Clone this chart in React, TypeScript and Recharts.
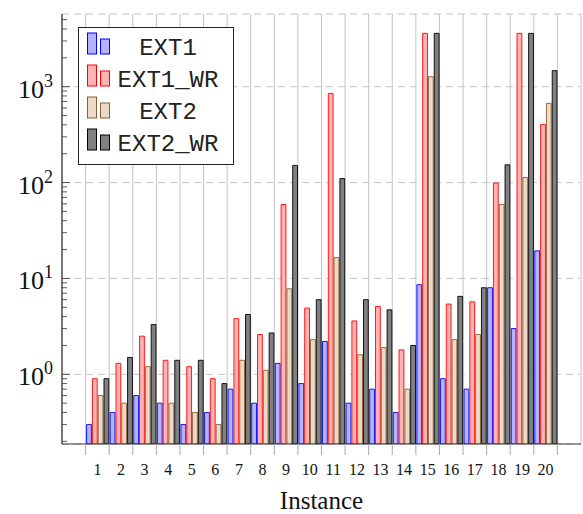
import React from "react";
import { BarChart, Bar, XAxis, YAxis, CartesianGrid } from "recharts";

// instances 1..20, runtimes on a log axis
const categories = [
  "1", "2", "3", "4", "5", "6", "7", "8", "9", "10",
  "11", "12", "13", "14", "15", "16", "17", "18", "19", "20",
];
const ext1 = [0.3, 0.4, 0.6, 0.5, 0.3, 0.4, 0.7, 0.5, 1.3, 0.8, 2.2, 0.5, 0.7, 0.4, 8.6, 0.9, 0.7, 8, 3, 19.4];
const ext1Wr = [0.9, 1.3, 2.5, 1.4, 1.2, 0.9, 3.8, 2.6, 59, 4.9, 850, 3.6, 5.1, 1.8, 3600, 5.4, 5.7, 99, 3600, 404];
const ext2 = [0.6, 0.5, 1.2, 0.5, 0.4, 0.3, 1.4, 1.1, 7.8, 2.3, 16.5, 1.6, 1.9, 0.7, 1270, 2.3, 2.6, 59, 113, 670];
const ext2Wr = [0.9, 1.5, 3.3, 1.4, 1.4, 0.8, 4.2, 2.7, 151, 6, 110, 6, 4.7, 2, 3600, 6.5, 8, 153, 3600, 1470];

const yTicks = [
  0.2, 0.3, 0.4, 0.5, 0.6, 0.7, 0.8, 0.9,
  1, 2, 3, 4, 5, 6, 7, 8, 9,
  10, 20, 30, 40, 50, 60, 70, 80, 90,
  100, 200, 300, 400, 500, 600, 700, 800, 900,
  1000, 2000, 3000, 4000, 5000,
];
const majorTicks = [1, 10, 100, 1000];
const yDomain = [0.1875, 5730];

const series = [
  { key: "ext1", name: "EXT1", fill: "#b3b3ff", stroke: "#0000ff" },
  { key: "ext1Wr", name: "EXT1_WR", fill: "#ffb3b3", stroke: "#ff0000" },
  { key: "ext2", name: "EXT2", fill: "#ecd9c6", stroke: "#8c5e34" },
  { key: "ext2Wr", name: "EXT2_WR", fill: "#808080", stroke: "#000000" },
];

const data = categories.map((name, i) => ({
  name,
  pos: Number(name),
  ext1: ext1[i],
  ext1Wr: ext1Wr[i],
  ext2: ext2[i],
  ext2Wr: ext2Wr[i],
}));

// group borders sit half way between instances
const edgeTicks = [0.5, ...categories.map((c) => Number(c) + 0.5)];
const xDomain = [-0.5, categories.length + 1.5];

const SERIF = "'Liberation Serif', 'DejaVu Serif', serif";
const MONO = "'Liberation Mono', 'DejaVu Sans Mono', monospace";
const GRID = "#c4c4c4";
const FRAME = "#333";

const isMajor = (v: number) => Math.abs(Math.log10(v) - Math.round(Math.log10(v))) < 1e-9;

// tick={false} would also drop grid lines, so draw an empty label instead
const NoLabel = () => <g />;

const LeftTick = (props: any) => {
  const { x, y, payload } = props;
  const major = isMajor(payload.value);
  return (
    <g>
      <line x1={x} x2={x + (major ? 8 : 5)} y1={y} y2={y} stroke={FRAME} strokeWidth={0.8} />
      {major && (
        <text x={x - 9} y={y + 11} textAnchor="end" fontFamily={SERIF} fontSize={26} fill="#111">
          10
          <tspan dy={-11} fontSize={18}>
            {Math.round(Math.log10(payload.value))}
          </tspan>
        </text>
      )}
    </g>
  );
};

const RightTick = (props: any) => {
  const { x, y, payload } = props;
  const major = isMajor(payload.value);
  return <line x1={x} x2={x - (major ? 8 : 5)} y1={y} y2={y} stroke={FRAME} strokeWidth={0.8} />;
};

function LegendBox() {
  return (
    <svg
      width={156}
      height={138}
      style={{ position: "absolute", left: 78, top: 27, background: "#fff" }}
    >
      <rect x={0.5} y={0.5} width={155} height={137} fill="#fff" stroke="#222" strokeWidth={1} />
      {series.map((s, i) => {
        const yb = 27 + i * 32;
        return (
          <g key={s.key}>
            <rect x={9.5} y={yb - 21} width={9} height={21} fill={s.fill} stroke={s.stroke} strokeWidth={1} />
            <rect x={22.5} y={yb - 15} width={9} height={15} fill={s.fill} stroke={s.stroke} strokeWidth={1} />
            <text x={90} y={yb + 1} textAnchor="middle" fontFamily={MONO} fontSize={24} fill="#222">
              {s.name}
            </text>
          </g>
        );
      })}
    </svg>
  );
}

export default function App() {
  return (
    <div style={{ position: "absolute", left: 0, top: 0, width: 583, height: 514, background: "#fff" }}>
      <BarChart
        width={583}
        height={514}
        data={data}
        margin={{ top: 14, right: 2, left: 0, bottom: 0 }}
        barSize={4.8}
        barGap={1}
      >
        <CartesianGrid horizontal={false} stroke={GRID} strokeWidth={1} />
        <CartesianGrid yAxisId="major" vertical={false} stroke={GRID} strokeDasharray="7 5" strokeWidth={1} />
        <XAxis
          dataKey="pos"
          type="number"
          domain={xDomain}
          allowDataOverflow
          ticks={edgeTicks}
          interval={0}
          tick={NoLabel}
          tickSize={11}
          tickLine={{ stroke: "#aaa" }}
          axisLine={{ stroke: FRAME, strokeWidth: 1.2 }}
          height={11}
        />
        <XAxis
          xAxisId="top"
          dataKey="pos"
          orientation="top"
          type="number"
          domain={xDomain}
          allowDataOverflow
          ticks={edgeTicks}
          interval={0}
          tick={NoLabel}
          tickSize={11}
          tickLine={{ stroke: "#aaa" }}
          axisLine={{ stroke: FRAME, strokeWidth: 1.2 }}
          height={0}
        />
        <XAxis
          xAxisId="cat"
          dataKey="name"
          type="category"
          padding={{ left: 23.59, right: 23.59 }}
          interval={0}
          tickLine={false}
          axisLine={false}
          tickSize={0}
          tickMargin={9}
          height={59}
          tick={{ fontFamily: SERIF, fontSize: 16, fill: "#111" }}
          label={{
            value: "Instance",
            position: "insideBottom",
            offset: 5,
            style: { fontFamily: SERIF, fontSize: 25, fill: "#111" },
          }}
        />
        <YAxis
          scale="log"
          type="number"
          domain={yDomain}
          allowDataOverflow
          ticks={yTicks}
          interval={0}
          width={62}
          tickSize={0}
          tickMargin={0}
          tickLine={false}
          axisLine={{ stroke: FRAME, strokeWidth: 1.2 }}
          tick={LeftTick}
        />
        <YAxis
          yAxisId="right"
          orientation="right"
          scale="log"
          type="number"
          domain={yDomain}
          allowDataOverflow
          ticks={yTicks}
          interval={0}
          width={0}
          tickSize={0}
          tickMargin={0}
          tickLine={false}
          axisLine={{ stroke: FRAME, strokeWidth: 1.2 }}
          tick={RightTick}
        />
        <YAxis
          yAxisId="major"
          hide
          scale="log"
          type="number"
          domain={yDomain}
          allowDataOverflow
          ticks={majorTicks}
          interval={0}
        />
        {series.map((s) => (
          <Bar
            key={s.key}
            dataKey={s.key}
            name={s.name}
            xAxisId="cat"
            fill={s.fill}
            stroke={s.stroke}
            strokeWidth={0.9}
            isAnimationActive={false}
          />
        ))}
      </BarChart>
      <LegendBox />
    </div>
  );
}
